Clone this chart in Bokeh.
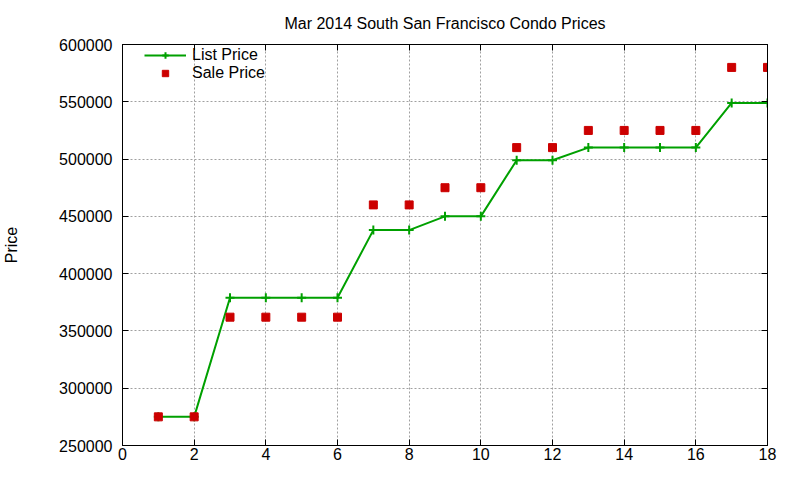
from bokeh.plotting import figure
from bokeh.models import Range1d, FixedTicker, LinearAxis, Legend, LegendItem, BasicTickFormatter
from bokeh.embed import file_html
from bokeh.resources import INLINE

# Data
x_vals = list(range(1, 19))
list_price = [275000, 275000, 379000, 379000, 379000, 379000, 438000, 438000, 450000,
              450000, 499000, 499000, 510000, 510000, 510000, 510000, 549000, 549000]
sale_price = [275000, 275000, 362000, 362000, 362000, 362000, 460000, 460000, 475000,
              475000, 510000, 510000, 525000, 525000, 525000, 525000, 580000, 580000]
x_ticks = list(range(0, 19, 2))
y_ticks = list(range(250000, 600001, 50000))
title_text = "Mar 2014 South San Francisco Condo Prices"

FONT = "Liberation Sans"
GREEN = "#00A000"
RED = "#CC0000"

p = figure(width=784, height=464, output_backend="svg", toolbar_location=None,
           x_range=Range1d(0, 18), y_range=Range1d(250000, 600000),
           min_border_left=120, min_border_right=17, min_border_top=44, min_border_bottom=19)

p.title.text = title_text
p.title.text_font = FONT
p.title.text_font_size = "16px"
p.title.text_font_style = "normal"
p.title.align = "center"
p.title.text_color = "black"
p.title.vertical_align = "top"
p.title.standoff = 22

p.outline_line_color = "black"
p.outline_line_width = 1
p.background_fill_color = "white"
p.border_fill_color = "white"

for ax in [p.xaxis[0], p.yaxis[0]]:
    ax.major_label_text_font = FONT
    ax.major_label_text_font_size = "16px"
    ax.major_label_text_color = "black"
    ax.major_tick_in = 6
    ax.major_tick_out = 0
    ax.minor_tick_in = 0
    ax.minor_tick_out = 0
    ax.axis_line_color = "black"
    ax.major_tick_line_color = "black"

p.xaxis[0].ticker = FixedTicker(ticks=x_ticks)
p.yaxis[0].ticker = FixedTicker(ticks=y_ticks)
p.yaxis[0].formatter = BasicTickFormatter(use_scientific=False)
p.xaxis[0].major_label_standoff = 2
p.yaxis[0].major_label_standoff = 10

p.yaxis[0].axis_label = "Price"
p.yaxis[0].axis_label_text_font = FONT
p.yaxis[0].axis_label_text_font_size = "16px"
p.yaxis[0].axis_label_text_font_style = "normal"
p.yaxis[0].axis_label_text_color = "black"
p.yaxis[0].axis_label_standoff = 36

# mirror axes (ticks only)
right = LinearAxis(ticker=FixedTicker(ticks=y_ticks), major_label_text_font_size="0px",
                   major_tick_in=6, major_tick_out=0, minor_tick_in=0, minor_tick_out=0)
top = LinearAxis(ticker=FixedTicker(ticks=x_ticks), major_label_text_font_size="0px",
                 major_tick_in=6, major_tick_out=0, minor_tick_in=0, minor_tick_out=0)
p.add_layout(right, "right")
p.add_layout(top, "above")

for g in [p.xgrid[0], p.ygrid[0]]:
    g.grid_line_color = "#a0a0a0"
    g.grid_line_dash = "2 2"
    g.grid_line_width = 1
p.xgrid[0].ticker = FixedTicker(ticks=x_ticks)
p.ygrid[0].ticker = FixedTicker(ticks=y_ticks)

line = p.line(x_vals, list_price, line_color=GREEN, line_width=2)
crosses = p.scatter(x_vals, list_price, marker="cross", size=9, line_color=GREEN, line_width=2)
squares = p.scatter(x_vals, sale_price, marker="square", size=8, fill_color=RED, line_color=RED)

legend = Legend(items=[LegendItem(label="List Price", renderers=[line, crosses]),
                       LegendItem(label="Sale Price", renderers=[squares])],
                location=(22, 363), border_line_color=None, background_fill_alpha=0,
                label_text_font=FONT, label_text_font_size="16px", label_text_color="black",
                label_height=16, glyph_height=16, glyph_width=42, spacing=0, padding=3,
                margin=0, label_standoff=6)
p.add_layout(legend, "center")

open("out.html", "w").write(file_html(p, INLINE))
